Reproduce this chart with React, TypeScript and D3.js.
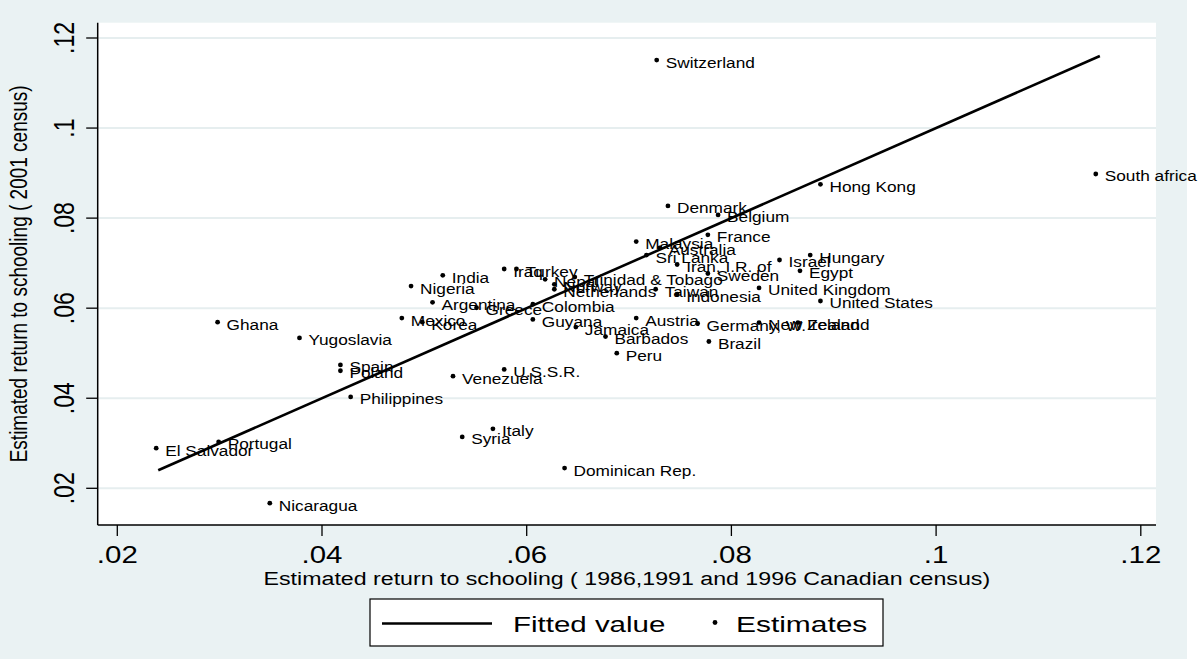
import React from "react";
import * as d3 from "d3";

// ---- data ----
const countries = [
  "Switzerland", "South africa", "Hong Kong", "Denmark", "Belgium", "France",
  "Malaysia", "Australia", "Sri Lanka", "Iran, I.R. of", "Israel", "Hungary",
  "Egypt", "Sweden", "Trinidad & Tobago", "Nepal", "Norway", "Netherlands",
  "Taiwan", "Indonesia", "United Kingdom", "United States", "Iraq", "Turkey",
  "India", "Nigeria", "Argentina", "Greece", "Colombia", "Mexico", "Korea",
  "Ghana", "Guyana", "Jamaica", "Austria", "Germany, W.", "New Zealand",
  "Ireland", "Barbados", "Brazil", "Peru", "Yugoslavia", "Spain", "Poland",
  "Philippines", "Venezuela", "U.S.S.R.", "Italy", "Syria", "Dominican Rep.",
  "El Salvador", "Portugal", "Nicaragua",
];
const returnsOld = [
  0.0727, 0.1156, 0.0887, 0.0738, 0.0787, 0.0777,
  0.0707, 0.0730, 0.0717, 0.0747, 0.0847, 0.0877,
  0.0867, 0.0777, 0.0647, 0.0618, 0.0627, 0.0627,
  0.0726, 0.0747, 0.0827, 0.0887, 0.0578, 0.0590,
  0.0518, 0.0487, 0.0508, 0.0551, 0.0606, 0.0478, 0.0498,
  0.0298, 0.0606, 0.0648, 0.0707, 0.0767, 0.0827,
  0.0865, 0.0677, 0.0778, 0.0688, 0.0378, 0.0418, 0.0418,
  0.0428, 0.0528, 0.0578, 0.0567, 0.0537, 0.0637,
  0.0238, 0.0299, 0.0349,
];
const returns2001 = [
  0.1151, 0.0898, 0.0875, 0.0827, 0.0807, 0.0763,
  0.0748, 0.0734, 0.0718, 0.0697, 0.0707, 0.0718,
  0.0683, 0.0677, 0.0669, 0.0664, 0.0653, 0.0642,
  0.0642, 0.0631, 0.0645, 0.0616, 0.0687, 0.0687,
  0.0673, 0.0649, 0.0613, 0.0601, 0.0609, 0.0578, 0.0569,
  0.0569, 0.0575, 0.0558, 0.0578, 0.0566, 0.0568,
  0.0568, 0.0537, 0.0526, 0.0500, 0.0534, 0.0474, 0.0461,
  0.0403, 0.0449, 0.0464, 0.0332, 0.0314, 0.0245,
  0.0289, 0.0303, 0.0167,
];
const fittedX = [0.024, 0.116];
const fittedY = [0.024, 0.116];
const xTicks = [0.02, 0.04, 0.06, 0.08, 0.1, 0.12];
const xTickLabels = [".02", ".04", ".06", ".08", ".1", ".12"];
const yTicks = [0.02, 0.04, 0.06, 0.08, 0.1, 0.12];
const yTickLabels = [".02", ".04", ".06", ".08", ".1", ".12"];
const xTitle = "Estimated return to schooling ( 1986,1991 and 1996 Canadian census)";
const yTitle = "Estimated return to schooling ( 2001 census)";
const legendItems = ["Fitted value", "Estimates"];

const FONT = "'Liberation Sans', Arial, Helvetica, sans-serif";
const BG = "#EAF2F3";

export default function App() {
  const W = 1200, H = 659;
  const plotL = 97.7, plotR = 1156, plotT = 22.7, plotB = 525;
  const x = d3.scaleLinear().domain([0.02, 0.12]).range([117.3, 1140.8]);
  const y = d3.scaleLinear().domain([0.02, 0.12]).range([488.3, 38]);
  const line = d3.line<number>().x((d, i) => x(fittedX[i])).y((d, i) => y(fittedY[i]));
  const pts = countries.map((c, i) => ({ c, x: returnsOld[i], y: returns2001[i] }));

  return (
    <div style={{ position: "fixed", left: 0, top: 0 }}>
      <svg width={W} height={H} style={{ display: "block" }} fontFamily={FONT}>
        <rect x={0} y={0} width={W} height={H} fill="#ffffff" />
        <rect x={0} y={0} width={1187} height={H} fill={BG} />
        <rect x={plotL} y={plotT} width={plotR - plotL} height={plotB - plotT} fill="#ffffff" />
        {/* gridlines */}
        {yTicks.map((t) => (
          <line key={"g" + t} x1={plotL} x2={plotR} y1={y(t)} y2={y(t)} stroke="#E6EEEF" strokeWidth={2} />
        ))}
        {/* fitted line */}
        <path d={line(fittedX) || ""} fill="none" stroke="#000" strokeWidth={2.6} />
        {/* points + labels */}
        {pts.map((p) => (
          <g key={p.c}>
            <circle cx={x(p.x)} cy={y(p.y)} r={2.4} fill="#000" />
            <text
              transform={`translate(${x(p.x) + 9},${y(p.y) + 7.5}) scale(1.15,1)`}
              fontSize={15}
              fill="#000"
            >
              {p.c}
            </text>
          </g>
        ))}
        {/* axes */}
        <line x1={plotL} x2={plotL} y1={plotT} y2={plotB} stroke="#000" strokeWidth={1.5} />
        <line x1={plotL} x2={plotR} y1={plotB} y2={plotB} stroke="#000" strokeWidth={1.5} />
        {xTicks.map((t, i) => (
          <g key={"xt" + t}>
            <line x1={x(t)} x2={x(t)} y1={plotB} y2={plotB + 11} stroke="#000" strokeWidth={1.3} />
            <text
              transform={`translate(${x(t)},${563}) scale(1.28,1)`}
              textAnchor="middle"
              fontSize={23}
            >
              {xTickLabels[i]}
            </text>
          </g>
        ))}
        {yTicks.map((t, i) => (
          <g key={"yt" + t}>
            <line x1={plotL - 11.5} x2={plotL} y1={y(t)} y2={y(t)} stroke="#000" strokeWidth={1.3} />
            <text
              transform={`translate(${74},${y(t)}) scale(1.28,1) rotate(-90)`}
              textAnchor="middle"
              fontSize={23}
            >
              {yTickLabels[i]}
            </text>
          </g>
        ))}
        {/* titles */}
        <text
          transform={`translate(${(plotL + plotR) / 2},${585}) scale(1.22,1)`}
          textAnchor="middle"
          fontSize={19}
        >
          {xTitle}
        </text>
        <text
          transform={`translate(${27},${(plotT + plotB) / 2}) scale(1.22,1) rotate(-90)`}
          textAnchor="middle"
          fontSize={19}
        >
          {yTitle}
        </text>
        {/* legend */}
        <rect x={370} y={599} width={513} height={47} fill="#fff" stroke="#000" strokeWidth={1.2} />
        <line x1={382} x2={492} y1={623.5} y2={623.5} stroke="#000" strokeWidth={2.6} />
        <text transform={`translate(513,632) scale(1.34,1)`} fontSize={22}>{legendItems[0]}</text>
        <circle cx={715} cy={622.5} r={2.4} fill="#000" />
        <text transform={`translate(736,632) scale(1.36,1)`} fontSize={22}>{legendItems[1]}</text>
      </svg>
    </div>
  );
}
